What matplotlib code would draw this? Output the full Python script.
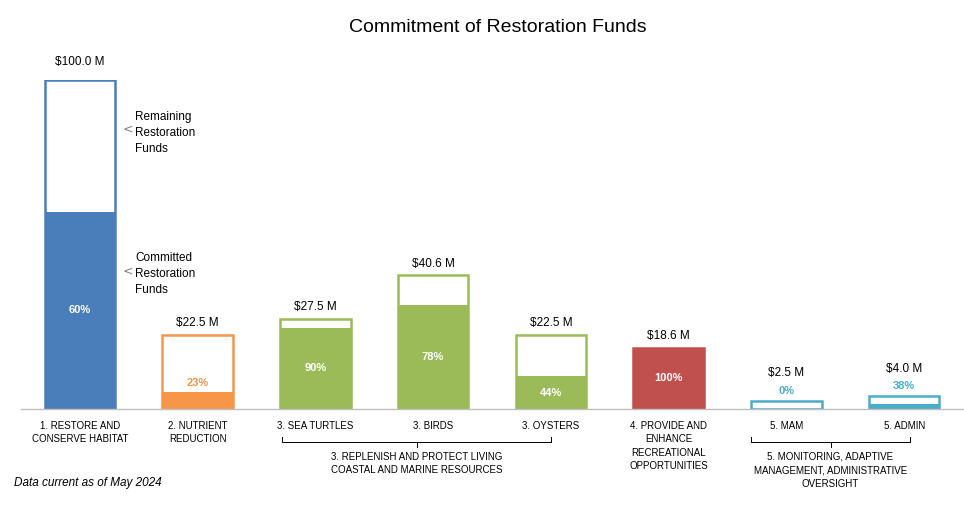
import matplotlib.pyplot as plt

categories = ["1. RESTORE AND\nCONSERVE HABITAT", "2. NUTRIENT\nREDUCTION", "3. SEA TURTLES", "3. BIRDS",
              "3. OYSTERS", "4. PROVIDE AND\nENHANCE\nRECREATIONAL\nOPPORTUNITIES", "5. MAM", "5. ADMIN"]
totals = [100.0, 22.5, 27.5, 40.6, 22.5, 18.6, 2.5, 4.0]
pct = [60, 23, 90, 78, 44, 100, 0, 38]
colors = ["#4A7EBB", "#F79646", "#9BBB59", "#9BBB59", "#9BBB59", "#C0504D", "#4BACC6", "#4BACC6"]

fig = plt.figure(figsize=(9.64, 5.14), dpi=100)
ax = fig.add_axes([21/964, 1-409/514, 942/964, 329/514])
ax.set_xlim(-0.5, 7.5)
ax.set_ylim(0, 100)
ax.axis("off")
ax.axhline(0, color="#BFBFBF", lw=1, clip_on=False)

w = 0.6
for i in range(len(totals)):
    fill = totals[i] * pct[i] / 100
    ax.bar(i, totals[i], w, facecolor="white", edgecolor=colors[i], lw=1.8)
    ax.bar(i, fill, w, color=colors[i], lw=0)
    small = totals[i] < 5
    ly = totals[i] + (8.3 if small else 3.6)
    if totals[i] >= 100:
        ly = totals[i] + 5.5
    ax.text(i, ly, "$%.1f M" % totals[i], ha="center", va="center", fontsize=8.5,
            family="Liberation Sans")
    if fill >= 9:
        ax.text(i, fill / 2, "%d%%" % pct[i], ha="center", va="center", color="white",
                fontsize=8, weight="bold", family="Liberation Sans")
    else:
        y = totals[i] + 3 if small else fill + 2.7
        ax.text(i, y, "%d%%" % pct[i], ha="center", va="center", color=colors[i],
                fontsize=8, weight="bold", family="Liberation Sans")
    ax.text(i, -3.5, categories[i], ha="center", va="top", fontsize=7, family="Liberation Sans",
            linespacing=1.45)

# group brackets
def bracket(x0, x1, y, label):
    ax.plot([x0, x0, x1, x1], [y + 1.5, y, y, y + 1.5], color="black", lw=0.7, clip_on=False)
    xm = (x0 + x1) / 2
    ax.plot([xm, xm], [y, y - 1.5], color="black", lw=0.7, clip_on=False)
    ax.text(xm, y - 3, label, ha="center", va="top", fontsize=7, family="Liberation Sans",
            linespacing=1.45)

bracket(1.72, 4.0, -10, "3. REPLENISH AND PROTECT LIVING\nCOASTAL AND MARINE RESOURCES")
bracket(5.7, 7.05, -10, "5. MONITORING, ADAPTIVE\nMANAGEMENT, ADMINISTRATIVE\nOVERSIGHT")

ax.text(0.36, 85, "<", ha="left", va="center", fontsize=9, color="#7F7F7F")
ax.text(0.47, 84, "Remaining\nRestoration\nFunds", ha="left", va="center", fontsize=8.5,
        family="Liberation Sans", linespacing=1.45)
ax.text(0.36, 42, "<", ha="left", va="center", fontsize=9, color="#7F7F7F")
ax.text(0.47, 41, "Committed\nRestoration\nFunds", ha="left", va="center", fontsize=8.5,
        family="Liberation Sans", linespacing=1.45)

fig.text(498/964, 1-28/514, "Commitment of Restoration Funds", ha="center", va="center",
         fontsize=14, family="Liberation Sans")
fig.text(14/964, 1-483/514, "Data current as of May 2024", ha="left", va="center",
         fontsize=8.5, style="italic", family="Liberation Sans")

fig.savefig("out.png", dpi=100)
